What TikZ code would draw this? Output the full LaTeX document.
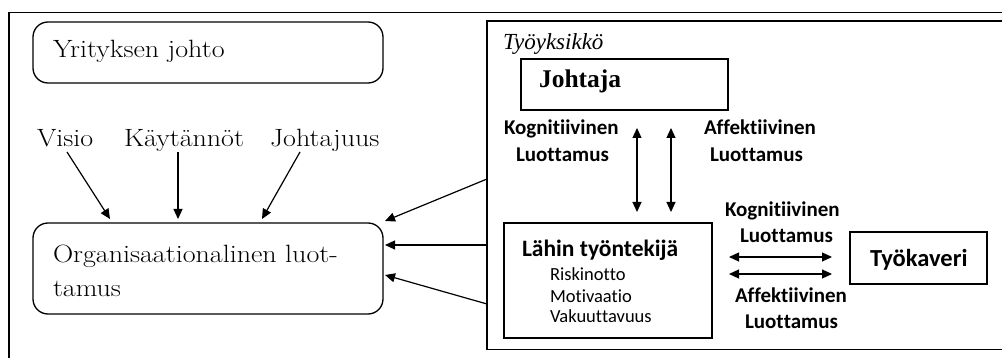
\documentclass[tikz,border=0pt]{standalone}
\usepackage{fontspec}
\usetikzlibrary{arrows.meta}
\newfontfamily\palfont{Latin Modern Roman}[FakeStretch=1.12]
\newfontfamily\timesfont{Liberation Serif}
\newfontfamily\califont{Carlito}[Ligatures={NoCommon,NoContextual},Contextuals=NoAlternate]
% keeps Carlito from joining t+i and t+t
\newcommand\nolig{\kern0pt}
\begin{document}
\begin{tikzpicture}[x=1pt,y=-1pt,
  line width=1.3pt,
  txt/.style={anchor=base west,inner sep=0pt,outer sep=0pt},
  pal/.style={txt,font=\palfont\fontsize{25}{25}\selectfont},
  lbl/.style={txt,font=\califont\bfseries\fontsize{21}{21}\selectfont},
  small/.style={txt,font=\califont\fontsize{18.5}{18.5}\selectfont},
  rbox/.style={draw,rounded corners=15pt,inner sep=0pt},
  sbox/.style={draw,inner sep=0pt},
  arr/.style={-{Triangle[length=10pt,width=9pt]},line width=1.2pt},
  biarr/.style={{Triangle[length=10pt,width=9pt]}-{Triangle[length=10pt,width=9pt]},line width=1.2pt}]
\useasboundingbox (0,0) rectangle (1002,358);

% outer frame and work unit frame
\draw (1002,12.5) -- (9,12.5) -- (9,358);
\draw (1002,21) -- (487,21) -- (487,349.5) -- (1002,349.5);
\coordinate (u1) at (487,179);
\coordinate (u2) at (487,245);
\coordinate (u3) at (487,304);

% company management
\node[rbox,minimum width=350pt,minimum height=61pt] (mgmt) at (208,52.5) {};
\node[pal] (mgmtT) at (53,58) {Yrityksen johto};

% factors
\node[pal] (visio) at (37,147) {Visio};
\node[pal] (kayt) at (124,147) {Käytännöt};
\node[pal] (johtaj) at (270,147) {Johtajuus};
\coordinate (visioA) at (67,152);
\coordinate (kaytA) at (178,152);
\coordinate (johtajA) at (300,152);

% organisational trust
\node[rbox,minimum width=350pt,minimum height=91pt] (org) at (208,268.5) {};
\node[pal] (orgT1) at (53,263) {Organisaationalinen luot-};
\node[pal] (orgT2) at (53,297) {tamus};
\coordinate (orgV) at (110,219);
\coordinate (orgK) at (178,219);
\coordinate (orgJ) at (262,219);
\coordinate (org1) at (385,221);
\coordinate (org2) at (385,245);
\coordinate (org3) at (385,275);

\draw[arr] (visioA) -- (orgV);
\draw[arr] (kaytA) -- (orgK);
\draw[arr] (johtajA) -- (orgJ);
\draw[arr] (u1) -- (org1);
\draw[arr] (u2) -- (org2);
\draw[arr] (u3) -- (org3);

% work unit
\node[txt,font=\timesfont\itshape\fontsize{23}{23}\selectfont] (unit) at (503,50) {Työyksikkö};
\node[sbox,minimum width=207pt,minimum height=51pt] (lead) at (624.5,84.5) {};
\node[txt,font=\timesfont\bfseries\fontsize{25.5}{25.5}\selectfont] (leadT) at (539,88) {Johtaja};

\node[lbl] (k1) at (504,135) {Kognit\nolig iivinen};
\node[lbl] (l1) at (516,162) {Luot\nolig tamus};
\node[lbl] (a1) at (704,135) {Affekt\nolig iivinen};
\node[lbl] (l2) at (710,162) {Luot\nolig tamus};

\node[sbox,minimum width=208pt,minimum height=115pt] (emp) at (608,280.5) {};
\node[txt,font=\califont\bfseries\fontsize{23.5}{23.5}\selectfont] (empT) at (522,257) {Lähin työntekijä};
\node[small] (r1) at (550,281) {Riskinot\nolig to};
\node[small] (r2) at (550,302) {Motivaat\nolig io};
\node[small] (r3) at (550,323) {Vakuut\nolig tavuus};

\coordinate (leadA) at (637,128);
\coordinate (leadB) at (671,128);
\coordinate (empA) at (637,212);
\coordinate (empB) at (671,212);
\draw[biarr] (leadA) -- (empA);
\draw[biarr] (leadB) -- (empB);

\node[sbox,minimum width=137pt,minimum height=52pt] (mate) at (918.5,258) {};
\node[txt,font=\califont\bfseries\fontsize{24.5}{24.5}\selectfont] (mateT) at (870,267) {Työkaveri};

\node[lbl] (k2) at (725,217) {Kognit\nolig iivinen};
\node[lbl] (l3) at (740,243) {Luot\nolig tamus};
\node[lbl] (a2) at (735,303) {Affekt\nolig iivinen};
\node[lbl] (l4) at (745,328) {Luot\nolig tamus};

\coordinate (empC) at (729,257);
\coordinate (empD) at (729,274);
\coordinate (mateC) at (832,257);
\coordinate (mateD) at (832,274);
\draw[biarr] (empC) -- (mateC);
\draw[biarr] (empD) -- (mateD);
\end{tikzpicture}
\end{document}
